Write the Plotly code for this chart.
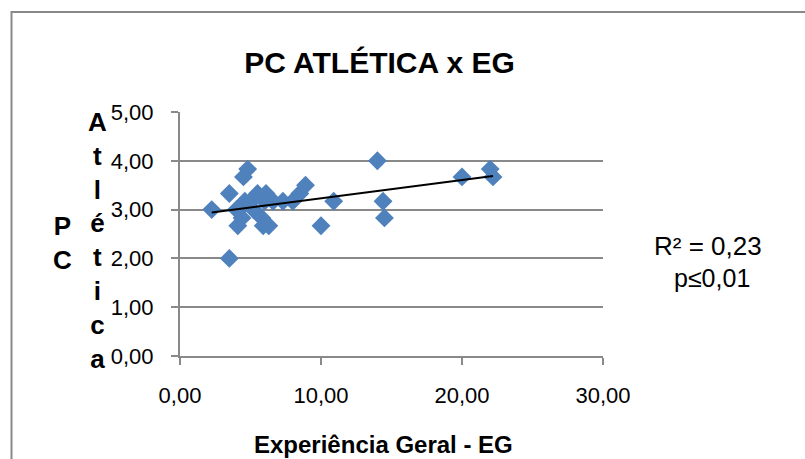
import numpy as np
import plotly.graph_objects as go

# Experiência Geral (EG) and PC Atlética scores per participant
eg = [2.25, 3.5, 3.5, 4.8, 4.5, 4.1, 4.4, 4.2, 4.6, 5.0, 5.5, 6.1, 5.2, 5.8, 5.9,
      6.3, 6.6, 7.3, 8.0, 8.5, 8.9, 10.0, 10.9, 14.0, 14.4, 14.5, 20.0, 22.0, 22.2,
      4.0, 6.0]
pc_atletica = [3.00, 2.00, 3.33, 3.83, 3.67, 2.67, 2.83, 3.00, 3.17, 3.17, 3.33, 3.33,
               3.00, 2.83, 2.67, 2.67, 3.17, 3.17, 3.17, 3.33, 3.50, 2.67, 3.17, 4.00,
               3.17, 2.83, 3.67, 3.83, 3.67, 3.00, 3.17]

x_ticks = [0, 10, 20, 30]
x_tick_labels = ["0,00", "10,00", "20,00", "30,00"]
y_ticks = [0, 1, 2, 3, 4, 5]
y_tick_labels = ["0,00", "1,00", "2,00", "3,00", "4,00", "5,00"]

title_text = "PC ATLÉTICA x EG"
x_title = "Experiência Geral - EG"
r2_text = "R² = 0,23"
p_text = "p≤0,01"

# Linear trend line over the observed EG range
slope, intercept = np.polyfit(eg, pc_atletica, 1)
trend_x = [min(eg), max(eg)]
trend_y = [slope * v + intercept for v in trend_x]

BLUE = "#4F81BD"
GRID = "#898989"
FONT = "Liberation Sans, Arial, sans-serif"

fig = go.Figure()
fig.add_trace(go.Scatter(
    x=eg, y=pc_atletica, mode="markers",
    marker=dict(symbol="diamond", size=14.5, color=BLUE, line=dict(width=0)),
    showlegend=False, hoverinfo="x+y",
))
fig.add_trace(go.Scatter(
    x=trend_x, y=trend_y, mode="lines",
    line=dict(color="black", width=2),
    showlegend=False, hoverinfo="skip",
))

fig.update_layout(
    width=805, height=459,
    margin=dict(l=180, r=202, t=112, b=103),
    paper_bgcolor="white", plot_bgcolor="white",
    font=dict(family=FONT, color="black"),
    title=dict(text=title_text, x=379.5 / 805, xanchor="center",
               y=1 - 62 / 459, yanchor="middle",
               font=dict(size=30, family=FONT, weight="bold")),
)

fig.update_xaxes(
    range=[0, 30], tickvals=x_ticks, ticktext=x_tick_labels,
    showgrid=False, zeroline=False,
    showline=True, linecolor=GRID, linewidth=2,
    ticks="outside", ticklen=7, tickwidth=2, tickcolor=GRID,
    ticklabelstandoff=12,
    tickfont=dict(size=22, family=FONT, color="black"),
)
fig.update_yaxes(
    range=[0, 5], tickvals=y_ticks, ticktext=y_tick_labels,
    showgrid=True, gridcolor=GRID, gridwidth=2, zeroline=False,
    showline=True, linecolor=GRID, linewidth=2,
    ticks="outside", ticklen=7, tickwidth=2, tickcolor=GRID,
    ticklabelstandoff=13,
    tickfont=dict(size=22, family=FONT, color="black"),
)

# Chart border (extends past the visible page on the right and bottom)
fig.add_shape(type="rect", xref="paper", yref="paper",
              x0=(11.5 - 180) / 423, x1=2.0, y0=-1.0, y1=(356.5 - 12.5) / 244,
              line=dict(color=GRID, width=2), fillcolor="rgba(0,0,0,0)", layer="below")

# Stacked vertical axis title: "PC Atlética"
fig.add_annotation(text="P<br>C", xref="paper", yref="paper",
                   x=(62 - 180) / 423, y=(356.5 - 243) / 244,
                   xanchor="center", yanchor="middle", align="center", showarrow=False,
                   font=dict(size=26, family=FONT, weight="bold"))
fig.add_annotation(text="A<br>t<br>l<br>é<br>t<br>i<br>c<br>a", xref="paper", yref="paper",
                   x=(97 - 180) / 423, y=(356.5 - 241) / 244,
                   xanchor="center", yanchor="middle", align="center", showarrow=False,
                   font=dict(size=26, family=FONT, weight="bold"))

# Horizontal axis title
fig.add_annotation(text=x_title, xref="paper", yref="paper",
                   x=(383 - 180) / 423, y=(356.5 - 445) / 244,
                   xanchor="center", yanchor="middle", showarrow=False,
                   font=dict(size=24, family=FONT, weight="bold"))

# Regression statistics
fig.add_annotation(text=r2_text, xref="paper", yref="paper",
                   x=(708 - 180) / 423, y=(356.5 - 246) / 244,
                   xanchor="center", yanchor="middle", showarrow=False,
                   font=dict(size=26, family=FONT))
fig.add_annotation(text=p_text, xref="paper", yref="paper",
                   x=(712 - 180) / 423, y=(356.5 - 278) / 244,
                   xanchor="center", yanchor="middle", showarrow=False,
                   font=dict(size=25, family=FONT))

fig.write_html("out.html")
